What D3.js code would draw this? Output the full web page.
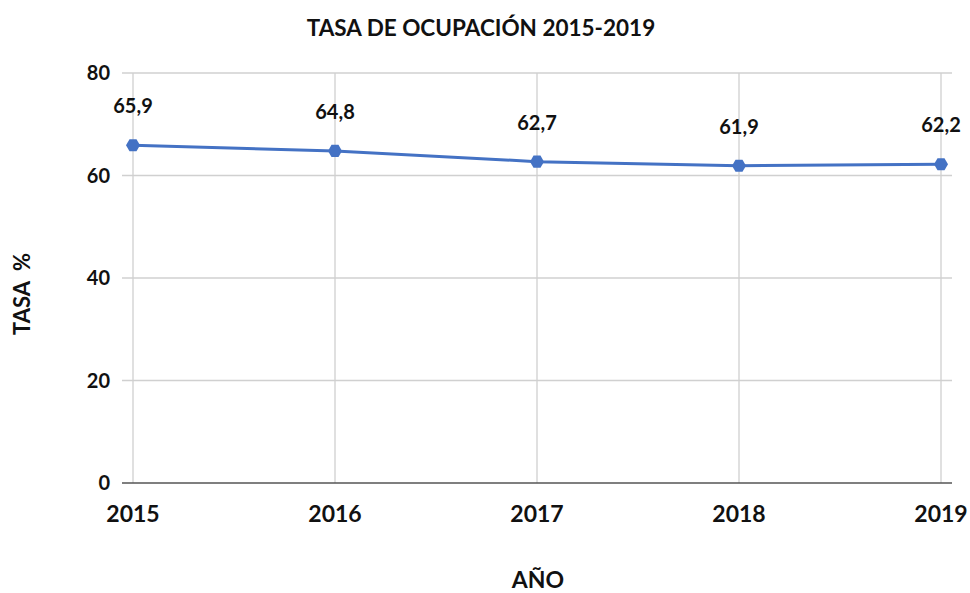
<!DOCTYPE html>
<html><head><meta charset="utf-8">
<script src="https://cdn.jsdelivr.net/npm/d3@7"></script>
<style>body{margin:0;background:#fff;} text{font-family:Lato,"Open Sans",sans-serif;font-weight:bold;fill:#111;}</style>
</head><body>
<svg id="c" width="970" height="593"></svg>
<script>
const years = ["2015","2016","2017","2018","2019"];
const values = [65.9, 64.8, 62.7, 61.9, 62.2];
const labels = ["65,9","64,8","62,7","61,9","62,2"];
const yTicks = [0,20,40,60,80];

const svg = d3.select("#c");
const x = d3.scalePoint().domain(years).range([133, 941]);
const y = d3.scaleLinear().domain([0, 80]).range([483, 73]);
const gx0 = 122, gx1 = 952;

svg.append("g").selectAll("line").data(yTicks.filter(d=>d>0)).join("line")
  .attr("x1", gx0).attr("x2", gx1).attr("y1", d=>y(d)).attr("y2", d=>y(d))
  .attr("stroke", "#d0d0d0").attr("stroke-width", 1.3);
svg.append("g").selectAll("line").data(years).join("line")
  .attr("x1", d=>x(d)).attr("x2", d=>x(d)).attr("y1", y(80)).attr("y2", y(0))
  .attr("stroke", "#d0d0d0").attr("stroke-width", 1.3);
svg.append("line").attr("x1", gx0).attr("x2", gx1).attr("y1", y(0)).attr("y2", y(0))
  .attr("stroke", "#555").attr("stroke-width", 1.5);

svg.append("g").selectAll("text").data(yTicks).join("text")
  .attr("x", 110).attr("y", d=>y(d)).attr("dy", "0.36em")
  .attr("text-anchor", "end").attr("font-size", 20).text(d=>d);
svg.append("g").selectAll("text").data(years).join("text")
  .attr("x", d=>x(d)).attr("y", 514).attr("dy", "0.36em")
  .attr("text-anchor", "middle").attr("font-size", 23).text(d=>d);

const line = d3.line().x((d,i)=>x(years[i])).y(d=>y(d));
svg.append("path").datum(values).attr("d", line)
  .attr("fill", "none").attr("stroke", "#4472C4").attr("stroke-width", 3);

const r = 7;
const hex = d3.range(6).map(k=>{const a = Math.PI/3*k; return [r*Math.cos(a), r*Math.sin(a)];});
svg.append("g").selectAll("path").data(values).join("path")
  .attr("transform", (d,i)=>`translate(${x(years[i])},${y(d)})`)
  .attr("d", "M" + hex.map(p=>p.join(",")).join("L") + "Z")
  .attr("fill", "#4472C4");

svg.append("g").selectAll("text").data(values).join("text")
  .attr("x", (d,i)=>x(years[i])).attr("y", d=>y(d) - 39).attr("dy", "0.36em")
  .attr("text-anchor", "middle").attr("font-size", 20).text((d,i)=>labels[i]);

svg.append("text").attr("x", 481).attr("y", 28).attr("dy", "0.36em")
  .attr("text-anchor", "middle").attr("font-size", 22.5).text("TASA DE OCUPACIÓN 2015-2019");
svg.append("text").attr("x", 538).attr("y", 580).attr("dy", "0.36em")
  .attr("text-anchor", "middle").attr("font-size", 23).text("AÑO");
svg.append("text").attr("transform", "translate(22,294) rotate(-90)").attr("dy", "0.36em")
  .attr("text-anchor", "middle").attr("font-size", 22).text("TASA\u00A0\u00A0%");
</script>
</body></html>
